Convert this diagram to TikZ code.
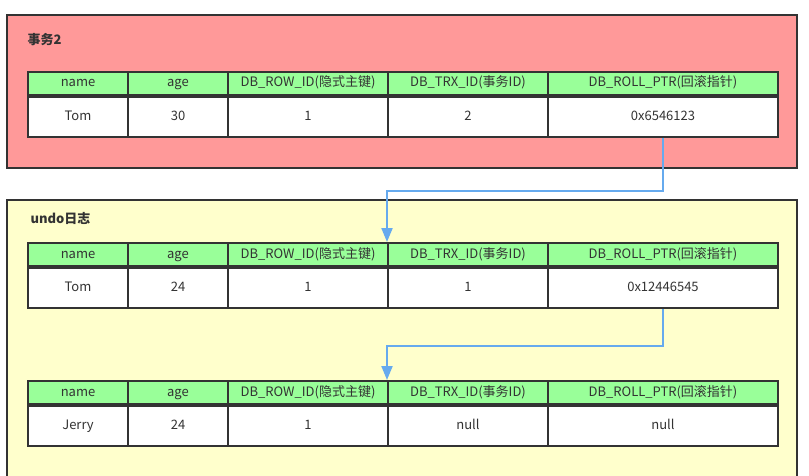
\documentclass[tikz,border=0pt]{standalone}
\usepackage{fontspec}
\setmainfont{Noto Sans CJK SC}
\usetikzlibrary{arrows.meta}
\definecolor{redfill}{RGB}{255,153,153}
\definecolor{yelfill}{RGB}{255,255,204}
\definecolor{greenfill}{RGB}{153,255,153}
\definecolor{edge}{RGB}{51,51,51}
\definecolor{txt}{RGB}{51,51,51}
\definecolor{ptr}{RGB}{102,170,238}
\tikzset{
  panel/.style={draw=edge, line width=2pt},
  cell/.style={draw=edge, line width=2pt, inner sep=0pt, text=txt,
    text height=10pt, text depth=3pt,
    font=\fontsize{13}{15}\selectfont},
  hcell/.style={cell, fill=greenfill, minimum height=23pt},
  dcell/.style={cell, fill=white, minimum height=40pt},
  ptrarrow/.style={draw=ptr, line width=2pt, -{Triangle[length=14pt,width=11pt]}},
  paneltitle/.style={anchor=west, text=txt, font=\fontsize{13}{15}\selectfont\bfseries}
}
\begin{document}
\begin{tikzpicture}[x=1pt,y=-1pt]
\useasboundingbox (0,0) rectangle (809,475);
\clip (0,0) rectangle (809,475);
\fill[white] (0,0) rectangle (809,475);
% panels
\draw[panel, fill=redfill] (7,15) rectangle (797,168);
\node[paneltitle] (title1) at (24,40) {事务2};
\draw[panel, fill=yelfill] (7,200) rectangle (797,490);
\node[paneltitle] (title2) at (27,218) {undo日志};
% column geometry: left edges and widths
\def\colx{{27,127,227,387,547}}
\def\colw{{100,100,160,160,230}}
% table macro: #1 name, #2 header top y, #3..#7 data
\newcommand{\mytable}[7]{%
  \foreach \i/\h/\d in {1/name/#3, 2/age/#4, 3/DB\_ROW\_ID(隐式主键)/#5, 4/DB\_TRX\_ID(事务ID)/#6, 5/DB\_ROLL\_PTR(回滚指针)/#7}{%
    \pgfmathsetmacro{\xl}{\colx[\i-1]}%
    \pgfmathsetmacro{\cwid}{\colw[\i-1]}%
    \node[hcell, minimum width=\cwid pt, anchor=north west] (#1h\i) at (\xl,#2) {\h};
    \node[dcell, minimum width=\cwid pt, anchor=north] (#1d\i) at (#1h\i.south) {\d};
  }%
}
\mytable{ta}{70.5}{Tom}{30}{1}{2}{0x6546123}
\mytable{tb}{242}{Tom}{24}{1}{1}{0x12446545}
\mytable{tc}{380}{Jerry}{24}{1}{null}{null}
% pointers
\draw[ptrarrow] (tad5.south) -- ++(0,53) -| (tbh4.north west);
\draw[ptrarrow] (tbd5.south) -- ++(0,37) -| (tch4.north west);
\end{tikzpicture}
\end{document}
